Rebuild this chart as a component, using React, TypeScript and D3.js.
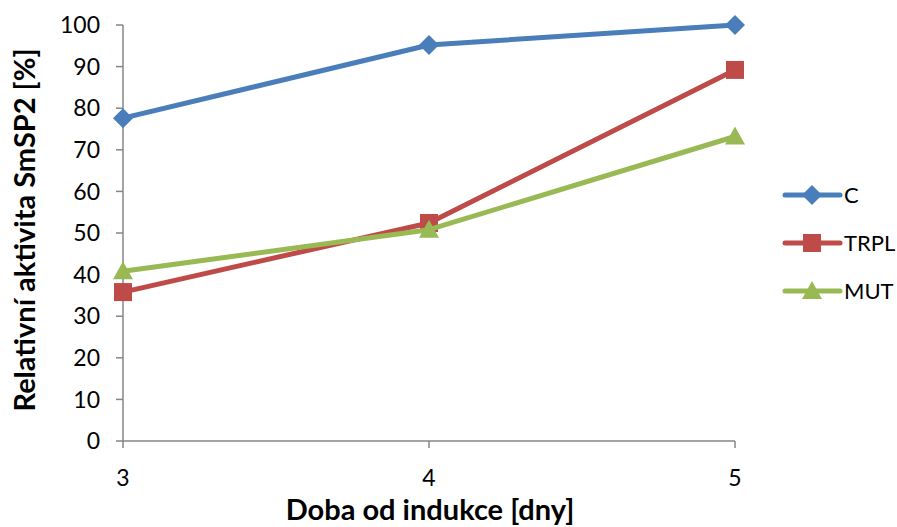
import React from "react";
import * as d3 from "d3";

const days = [3, 4, 5];
const seriesC = [77.6, 95.2, 100];
const seriesTRPL = [35.8, 52.4, 89.2];
const seriesMUT = [40.8, 50.8, 73.2];
const seriesNames = ["C", "TRPL", "MUT"];
const colors = ["#4A7EBB", "#BE4B48", "#98B954"];
const yTicks = [0, 10, 20, 30, 40, 50, 60, 70, 80, 90, 100];

const W = 897, H = 527;
const FONT = "Lato, 'Open Sans', sans-serif";

function Marker({ kind, x, y, color }: { kind: number; x: number; y: number; color: string }) {
  if (kind === 0) {
    const r = 10;
    return <path d={`M${x},${y - r}L${x + r},${y}L${x},${y + r}L${x - r},${y}Z`} fill={color} />;
  }
  if (kind === 1) {
    const s = 18;
    return <rect x={x - s / 2} y={y - s / 2} width={s} height={s} fill={color} />;
  }
  const s = 10;
  return <path d={`M${x},${y - s}L${x + s},${y + s * 0.8}L${x - s},${y + s * 0.8}Z`} fill={color} />;
}

export default function App() {
  const x = d3.scaleLinear().domain([3, 5]).range([123, 735]);
  const y = d3.scaleLinear().domain([0, 100]).range([441, 25]);
  const data = [seriesC, seriesTRPL, seriesMUT];
  const line = d3.line<number>().x((_, i) => x(days[i])).y((v) => y(v));
  const legendY = [195, 243, 291];
  return (
    <svg width={W} height={H} style={{ position: "absolute", left: 0, top: 0, background: "#fff" }} fontFamily={FONT}>
      <line x1={x(3)} x2={x(3)} y1={y(100)} y2={y(0)} stroke="#868686" strokeWidth={1.5} />
      <line x1={x(3)} x2={x(5)} y1={y(0)} y2={y(0)} stroke="#868686" strokeWidth={1.5} />
      {yTicks.map((t) => (
        <g key={t}>
          <line x1={x(3) - 7} x2={x(3)} y1={y(t)} y2={y(t)} stroke="#868686" strokeWidth={1.5} />
          <text x={x(3) - 23} y={y(t)} dy="0.36em" textAnchor="end" fontSize={23} fill="#000">{t}</text>
        </g>
      ))}
      {days.map((d) => (
        <g key={d}>
          <line x1={x(d)} x2={x(d)} y1={y(0)} y2={y(0) + 7} stroke="#868686" strokeWidth={1.5} />
          <text x={x(d)} y={y(0) + 45} textAnchor="middle" fontSize={23} fill="#000">{d}</text>
        </g>
      ))}
      <text x={430} y={520} textAnchor="middle" fontSize={29} fontWeight="bold" fill="#000">Doba od indukce [dny]</text>
      <text transform={`translate(35,230) rotate(-90)`} textAnchor="middle" fontSize={29} fontWeight="bold" fill="#000">Relativní aktivita SmSP2 [%]</text>
      {data.map((s, k) => (
        <g key={k}>
          <path d={line(s) || ""} fill="none" stroke={colors[k]} strokeWidth={5} strokeLinejoin="round" strokeLinecap="round" />
          {s.map((v, i) => (
            <Marker key={i} kind={k} x={x(days[i])} y={y(v)} color={colors[k]} />
          ))}
        </g>
      ))}
      {seriesNames.map((n, k) => (
        <g key={n}>
          <line x1={785} x2={840} y1={legendY[k]} y2={legendY[k]} stroke={colors[k]} strokeWidth={5} strokeLinecap="round" />
          <Marker kind={k} x={812} y={legendY[k]} color={colors[k]} />
          <text x={844} y={legendY[k]} dy="0.36em" fontSize={22} fill="#000">{n}</text>
        </g>
      ))}
    </svg>
  );
}
